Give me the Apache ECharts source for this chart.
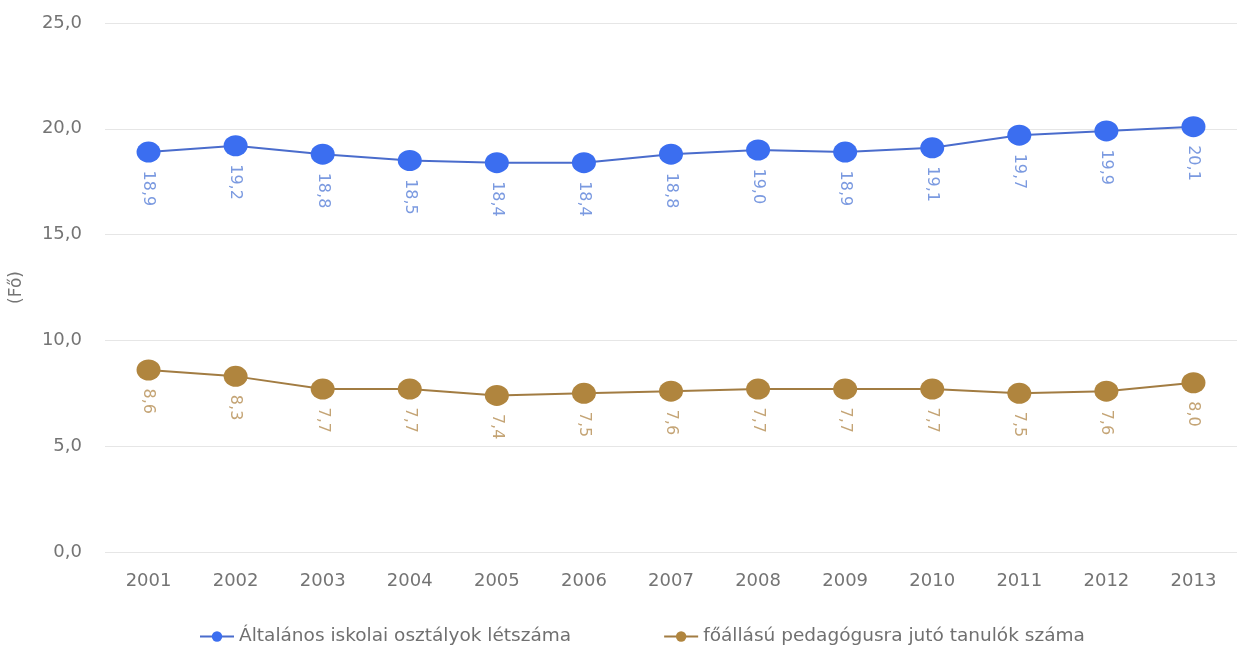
<!DOCTYPE html>
<html>
<head>
<meta charset="utf-8">
<script src="https://cdn.jsdelivr.net/npm/echarts@6/dist/echarts.min.js"></script>
<style>html,body{margin:0;padding:0;background:#fff;}#c{width:1237px;height:652px;}</style>
</head>
<body>
<div id="c"></div>
<script>
var years = ['2001','2002','2003','2004','2005','2006','2007','2008','2009','2010','2011','2012','2013'];
var classSize = [18.9,19.2,18.8,18.5,18.4,18.4,18.8,19.0,18.9,19.1,19.7,19.9,20.1];
var perTeacher = [8.6,8.3,7.7,7.7,7.4,7.5,7.6,7.7,7.7,7.7,7.5,7.6,8.0];
var seriesNames = ['Általános iskolai osztályok létszáma','főállású pedagógusra jutó tanulók száma'];
var yAxisName = '(Fő)';

function fmt(v){ return v.toFixed(1).replace('.', ','); }
var font = '"DejaVu Sans", sans-serif';
var chart = echarts.init(document.getElementById('c'));
function mkSeries(name, data, color, lineColor, labelColor){
  return {
    name: name, type: 'line', data: data,
    symbol: 'circle', symbolSize: [24, 21],
    itemStyle: { color: color },
    lineStyle: { color: lineColor, width: 2 },
    label: {
      show: true, position: 'bottom', distance: 8, rotate: -90,
      align: 'left', verticalAlign: 'middle',
      color: labelColor, fontFamily: font, fontSize: 16,
      formatter: function(p){ return fmt(p.value); }
    }
  };
}
chart.setOption({
  animation: false,
  grid: { left: 105, right: -10, top: 23, bottom: 100 },
  legend: {
    bottom: 1, left: 194, itemGap: 92, itemWidth: 34, itemHeight: 13,
    textStyle: { color: '#707070', fontFamily: font, fontSize: 18.5 },
    data: seriesNames
  },
  xAxis: {
    type: 'category', data: years, boundaryGap: true,
    axisLine: { show: false }, axisTick: { show: false },
    axisLabel: { color: '#747474', fontFamily: font, fontSize: 18, margin: 20 }
  },
  yAxis: {
    type: 'value', min: 0, max: 25, interval: 5,
    name: yAxisName, nameLocation: 'middle', nameGap: 80, nameRotate: 90,
    nameTextStyle: { color: '#747474', fontFamily: font, fontSize: 17 },
    axisLine: { show: false }, axisTick: { show: false },
    splitLine: { lineStyle: { color: '#e6e6e6', width: 1 } },
    axisLabel: { color: '#747474', fontFamily: font, fontSize: 18, margin: 23, formatter: function(v){ return fmt(v); } }
  },
  series: [
    mkSeries(seriesNames[0], classSize, '#3b6ef0', '#4a6ccc', '#7b9ae0'),
    mkSeries(seriesNames[1], perTeacher, '#b0853e', '#a27c42', '#c4a475')
  ]
});
</script>
</body>
</html>
